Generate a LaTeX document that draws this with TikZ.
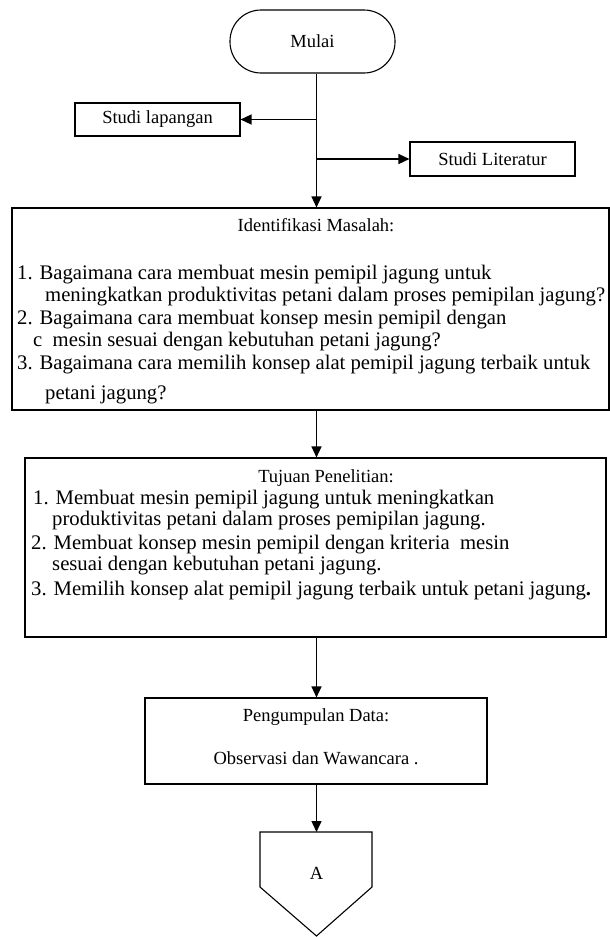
\documentclass[tikz,border=0pt]{standalone}
\usepackage{fontspec}
\setmainfont{Liberation Serif}
\usetikzlibrary{arrows.meta}
\begin{document}
\begin{tikzpicture}[x=1pt,y=-1pt,
  box/.style={draw, line width=1.1pt, rectangle, inner sep=0pt},
  hdfont/.style={font=\fontsize{18.5}{22}\selectfont},
  hd/.style={hdfont, inner sep=0pt, anchor=base},
  lst/.style={font=\fontsize{20.7}{24}\selectfont, inner sep=0pt, anchor=base west},
  arr/.style={line width=1.4pt, -{Triangle[length=11pt,width=10pt]}}]
\useasboundingbox (0,0) rectangle (610,937);
\fill[white] (0,0) rectangle (610,937);
\coordinate (ax) at (316.5,0);

% boxes
\node[box, hdfont, rounded corners=31pt, minimum width=165pt, minimum height=63pt] (mulai) at (312.5,41.5) {Mulai};
\node[box, hdfont, minimum width=165pt, minimum height=33pt] (lap) at (157.5,119.5) {Studi lapangan};
\node[box, hdfont, minimum width=165pt, minimum height=34pt] (lit) at (492.5,159) {Studi Literatur};
\node[box, minimum width=597pt, minimum height=202pt] (idm) at (310.5,309) {};
\node[box, minimum width=581pt, minimum height=179pt] (tuj) at (315.5,547.5) {};
\node[box, minimum width=342pt, minimum height=86pt] (peng) at (316,741) {};

% off-page connector
\coordinate (atop) at (316.5,832);
\draw[line width=1.1pt] (260,832) -- (372,832) -- (372,887) -- (316.5,936) -- (260,887) -- cycle;
\node[hdfont, inner sep=0pt] (atext) at (316.5,873) {A};

% Identifikasi text
\node[hd] (idmt) at (316,231) {Identifikasi Masalah:};
\node[lst] (i1) at (17,279) {1. Bagaimana cara membuat mesin pemipil jagung untuk};
\node[lst] (i2) at (45,301) {meningkatkan produktivitas petani dalam proses pemipilan jagung?};
\node[lst] (i3) at (17,324) {2. Bagaimana cara membuat konsep mesin pemipil dengan};
\node[lst] (i4) at (33,346) {c\ \ mesin sesuai dengan kebutuhan petani jagung?};
\node[lst] (i5) at (17,369) {3. Bagaimana cara memilih konsep alat pemipil jagung terbaik untuk};
\node[lst] (i6) at (45,399) {petani jagung?};

% Tujuan text
\node[hd] (tujt) at (326,482) {Tujuan Penelitian:};
\node[lst] (t1) at (33,504) {1. Membuat mesin pemipil jagung untuk meningkatkan};
\node[lst] (t2) at (52,525) {produktivitas petani dalam proses pemipilan jagung.};
\node[lst] (t3) at (31,549) {2. Membuat konsep mesin pemipil dengan kriteria\ \ mesin};
\node[lst] (t4) at (52,570) {sesuai dengan kebutuhan petani jagung.};
\node[lst] (t5) at (31,595) {3. Memilih konsep alat pemipil jagung terbaik untuk petani jagung\textbf{.}};

% Pengumpulan text
\node[hd] (pengt) at (316,721) {Pengumpulan Data:};
\node[hd] (pengo) at (316,764) {Observasi dan Wawancara .};

% connectors
\draw[arr] (mulai.south -| ax) -- (idm.north -| ax);
\draw[arr] (lap.east -| ax) -- (lap.east);
\draw[arr] (lit.west -| ax) -- (lit.west);
\draw[arr] (idm.south -| ax) -- (tuj.north -| ax);
\draw[arr] (tuj.south -| ax) -- (peng.north -| ax);
\draw[arr] (peng.south -| ax) -- (atop);
\end{tikzpicture}
\end{document}
